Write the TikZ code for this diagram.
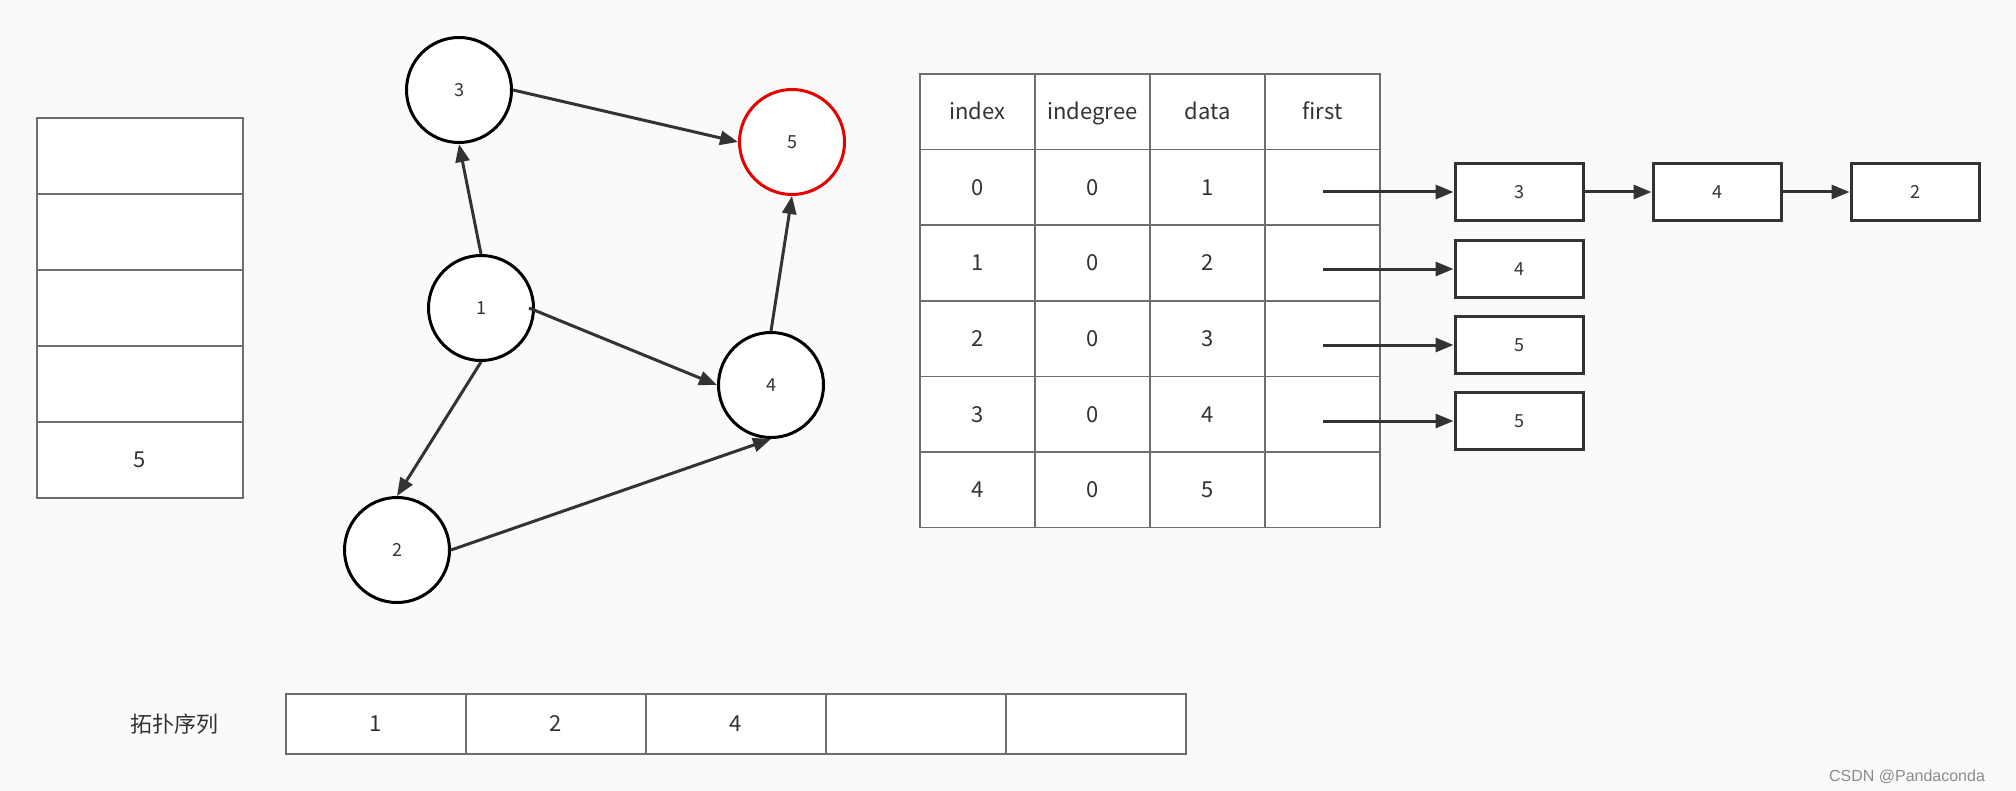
\documentclass[tikz,border=0pt]{standalone}
\usepackage{fontspec}
\setmainfont{Noto Sans CJK SC}
\newfontfamily\wmfont{Liberation Sans}
\usetikzlibrary{arrows.meta}
\definecolor{bg}{RGB}{250,250,250}
\definecolor{ink}{RGB}{51,51,51}
\definecolor{cellline}{RGB}{110,110,110}
\definecolor{redline}{RGB}{230,0,0}
\begin{document}
\begin{tikzpicture}[x=0.5pt,y=-0.5pt,
  vertex/.style={circle,draw=black,line width=1.5pt,fill=white,minimum size=52.5pt,inner sep=0pt,font=\fontsize{9}{10}\selectfont,text=ink},
  edge/.style={draw=ink,line width=1.5pt,-{Triangle[length=9pt,width=7pt]}},
  cell/.style={draw=cellline,line width=0.7pt,fill=white,inner sep=0pt,text height=1.75ex,text depth=0.3ex,font=\fontsize{11}{13}\selectfont,text=ink},
  listbox/.style={draw=ink,line width=1.5pt,fill=white,minimum width=64pt,minimum height=28.5pt,inner sep=0pt,font=\fontsize{9}{10}\selectfont,text=ink}
]
\useasboundingbox (0,0) rectangle (2016,791);
\fill[bg] (0,0) rectangle (2016,791);

% stack on the left
\foreach \i/\t in {0/,1/,2/,3/,4/5}{
  \node[cell,minimum width=103pt,minimum height=38pt] (s\i) at (140,{156+76*\i}) {\t};
}

% graph
\node[vertex] (n3) at (459,90) {3};
\node[vertex,draw=redline] (n5) at (792,142) {5};
\node[vertex] (n1) at (481,308) {1};
\node[vertex] (n4) at (771,385) {4};
\node[vertex] (n2) at (397,550) {2};
\draw[edge] (n1.north) -- (n3.south);
\draw[edge] (n3.east) -- (n5.west);
\draw[edge] ([xshift=-3pt]n1.east) -- (n4.west);
\draw[edge] (n1.south) -- (n2.north);
\draw[edge] (n2.east) -- (n4.south);
\draw[edge] (n4.north) -- (n5.south);

% table
\foreach \c/\t [count=\k from 0] in {0/index,1/indegree,2/data,3/first}{
  \node[cell,minimum width=57.5pt,minimum height=37.8pt] (h\k) at ({977.5+115*\c},111.8) {\t};
}
\foreach \r/\a/\b/\d in {0/0/0/1,1/1/0/2,2/2/0/3,3/3/0/4,4/4/0/5}{
  \node[cell,minimum width=57.5pt,minimum height=37.8pt] (a\r) at (977.5,{187.4+75.6*\r}) {\a};
  \node[cell,minimum width=57.5pt,minimum height=37.8pt] (b\r) at (1092.5,{187.4+75.6*\r}) {\b};
  \node[cell,minimum width=57.5pt,minimum height=37.8pt] (d\r) at (1207.5,{187.4+75.6*\r}) {\d};
  \node[cell,minimum width=57.5pt,minimum height=37.8pt] (f\r) at (1322.5,{187.4+75.6*\r}) {};
}

% adjacency lists
\node[listbox] (l0) at (1519,192) {3};
\node[listbox] (l0b) at (1717,192) {4};
\node[listbox] (l0c) at (1915,192) {2};
\node[listbox] (l1) at (1519,269) {4};
\node[listbox] (l2) at (1519,345) {5};
\node[listbox] (l3) at (1519,421) {5};
\foreach \r in {0,1,2,3}{
  \draw[edge] (f\r.center |- l\r.west) -- (l\r.west);
}
\draw[edge] (l0.east) -- (l0b.west);
\draw[edge] (l0b.east) -- (l0c.west);

% topological order
\node[font=\fontsize{11}{13}\selectfont,text=ink] (lbl) at (174,724) {拓扑序列};
\foreach \i/\t in {0/1,1/2,2/4,3/,4/}{
  \node[cell,minimum width=90pt,minimum height=30pt] (q\i) at ({376+180*\i},724) {\t};
}

% watermark
\node[font=\wmfont\fontsize{8}{9}\selectfont,text=black!45,anchor=east] (wm) at (1992,777) {CSDN @Pandaconda};
\end{tikzpicture}
\end{document}
